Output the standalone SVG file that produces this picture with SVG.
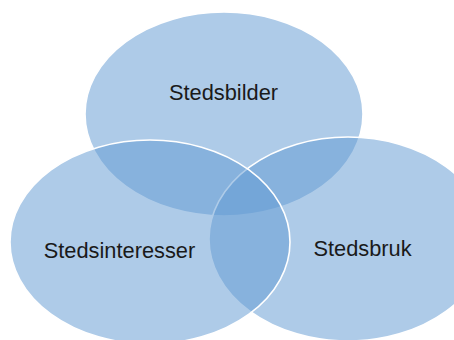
<svg xmlns="http://www.w3.org/2000/svg" width="454" height="340" viewBox="0 0 454 340">
<style>
.c{fill:#639bd3;fill-opacity:0.52;stroke:#ffffff;stroke-width:1.6}
.t{font-family:"Liberation Sans",Arial,sans-serif;font-size:21.8px;fill:#1a1a1a;text-anchor:middle}
</style>
<rect width="454" height="340" fill="#ffffff"/>
<g id="connectors"></g>
<g id="stedsbilder">
<ellipse class="c" cx="224" cy="114" rx="139" ry="102"/>
</g>
<g id="stedsbruk">
<ellipse class="c" cx="348" cy="239" rx="139" ry="102"/>
</g>
<g id="stedsinteresser">
<ellipse class="c" cx="150" cy="242" rx="140" ry="102"/>
</g>
<text class="t" x="223.5" y="100">Stedsbilder</text>
<text class="t" x="119.5" y="258">Stedsinteresser</text>
<text class="t" x="362.5" y="256">Stedsbruk</text>
</svg>
